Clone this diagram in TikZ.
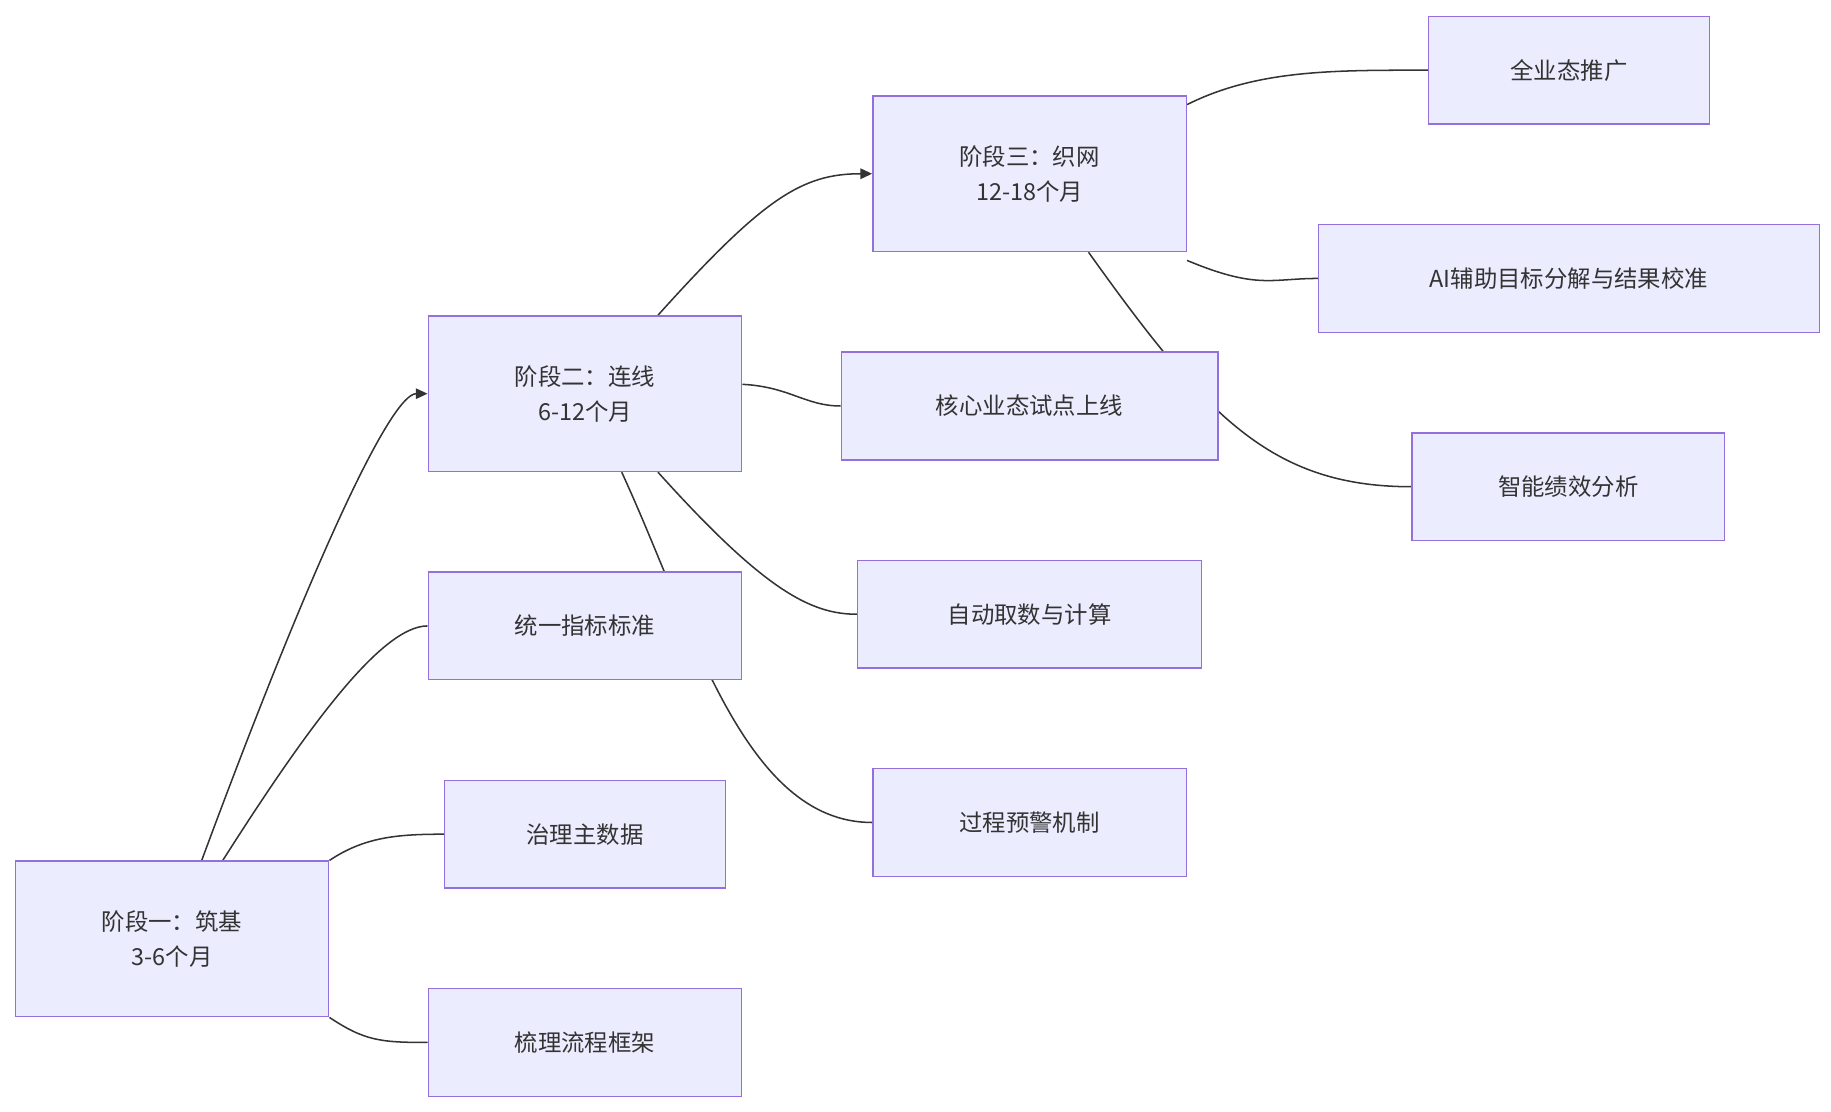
\documentclass[tikz,border=0pt]{standalone}
\usepackage{fontspec}
\setmainfont{Noto Sans CJK SC}
\usetikzlibrary{arrows.meta}
\pgfdeclarelayer{bg}\pgfsetlayers{bg,main}
\definecolor{nfill}{HTML}{ECECFF}
\definecolor{nline}{HTML}{9370DB}
\definecolor{eline}{HTML}{333333}
\begin{document}
\begin{tikzpicture}[x=1pt,y=-1pt,
 box/.style={draw=nline,fill=nfill,line width=1.2pt,text=eline,font=\fontsize{20}{30}\selectfont,align=center,inner sep=0pt},
 edge/.style={draw=eline,line width=1.3pt},
 arr/.style={edge,-{Triangle[length=10pt,width=9pt]}}]
\useasboundingbox (0,0) rectangle (1565,950);
\newcommand{\bx}[6]{\node[box,minimum width={#4-#2},minimum height={#5-#3}] (#1) at ({(#2+#4)/2},{(#3+#5)/2}) {#6};}
\bx{p1}{13}{736}{281}{869}{阶段一：筑基\\3-6个月}
\bx{p2}{366}{270}{634}{403}{阶段二：连线\\6-12个月}
\bx{p3}{746}{82}{1014}{215}{阶段三：织网\\12-18个月}
\bx{n1}{1221}{14}{1461}{106}{全业态推广}
\bx{n2}{1127}{192}{1555}{284}{AI辅助目标分解与结果校准}
\bx{n3}{719}{301}{1041}{393}{核心业态试点上线}
\bx{n4}{1207}{370}{1474}{462}{智能绩效分析}
\bx{n5}{733}{479}{1027}{571}{自动取数与计算}
\bx{n6}{366}{489}{634}{581}{统一指标标准}
\bx{n7}{746}{657}{1014}{749}{过程预警机制}
\bx{n8}{380}{667}{620}{759}{治理主数据}
\bx{n9}{366}{845}{634}{937}{梳理流程框架}
\begin{pgfonlayer}{bg}
\draw[arr] ([xshift=160pt]p1.north west) .. controls +(100,-270) and +(-30,0) .. (p2.west);
\draw[edge] ([xshift=178pt]p1.north west) .. controls +(70,-110) and +(-40,0) .. (n6.west);
\draw[edge] (p1.north east) .. controls +(30,-20) and +(-40,0) .. (n8.west);
\draw[edge] (p1.south east) .. controls +(30,20) and +(-40,0) .. (n9.west);
\draw[arr] ([xshift=197pt]p2.north west) .. controls +(90,-100) and +(-60,0) .. (p3.west);
\draw[edge] ([yshift=8pt]p2.east) .. controls +(40,2) and +(-30,0) .. (n3.west);
\draw[edge] ([xshift=166pt]p2.south west) .. controls +(60,130) and +(-110,0) .. (n7.west);
\draw[edge] ([xshift=197pt]p2.south west) .. controls +(90,100) and +(-40,0) .. (n5.west);
\draw[edge] ([yshift=-8pt]p3.north east) .. controls +(60,-30) and +(-80,0) .. (n1.west);
\draw[edge] ([yshift=-7pt]p3.south east) .. controls +(60,25) and +(-40,0) .. (n2.west);
\draw[edge] ([xshift=185pt]p3.south west) .. controls +(100,140) and +(-120,0) .. (n4.west);
\end{pgfonlayer}
\end{tikzpicture}
\end{document}
